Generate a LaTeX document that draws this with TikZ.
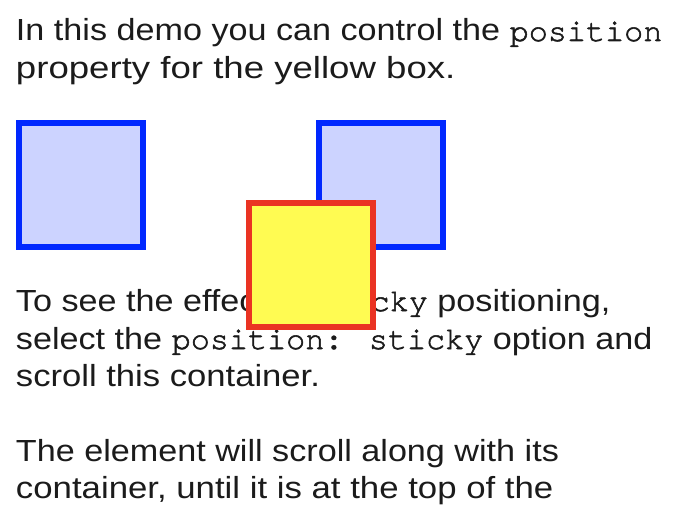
\documentclass[tikz,border=0pt]{standalone}
\usepackage{fontspec}
\setmainfont{Liberation Sans}[FakeStretch=1.12]
\newfontfamily\cur{TeX Gyre Cursor}[FakeBold=1.6]
\newcommand{\codetxt}[1]{{\cur\fontsize{31.8}{37.5}\selectfont #1}}
\definecolor{txtc}{HTML}{1B1B1B}
\definecolor{blueborder}{RGB}{0,40,255}
\definecolor{bluefill}{RGB}{204,211,255}
\definecolor{yellowfill}{RGB}{255,251,82}
\definecolor{redborder}{RGB}{234,51,35}
\tikzset{
  txt/.style={anchor=base west, inner sep=0pt, outer sep=0pt, text=txtc,
    font=\fontsize{30.5}{37.5}\selectfont},
  bluebox/.style={draw=blueborder, fill=bluefill, line width=6pt,
    minimum size=124pt, inner sep=0pt, outer sep=0pt},
  yellowbox/.style={draw=redborder, fill=yellowfill, line width=6pt,
    minimum size=124pt, inner sep=0pt, outer sep=0pt}
}
\begin{document}
\begin{tikzpicture}[x=1pt,y=-1pt]
\useasboundingbox[fill=white] (0,0) rectangle (680,508);
\node[txt] (p1a) at (16,41) {In this demo you can control the \codetxt{position}};
\node[txt] (p1b) at (16,79) {\addfontfeatures{FakeStretch=1.2}property for the yellow box.};
\node[bluebox] (b1) at (81,185) {};
\node[bluebox] (b2) at (381,185) {};
\node[txt] (p2a) at (16,311) {To see the effect of \codetxt{sticky} positioning,};
\node[txt] (p2b) at (16,349) {select the \codetxt{position: sticky} option and};
\node[txt] (p2c) at (16,386) {\addfontfeatures{FakeStretch=1.135}scroll this container.};
\node[txt] (p3a) at (16,461) {The element will scroll along with its};
\node[txt] (p3b) at (16,498) {\addfontfeatures{FakeStretch=1.14}container, until it is at the top of the};
\node[yellowbox] (y) at (311,265) {};
\end{tikzpicture}
\end{document}
